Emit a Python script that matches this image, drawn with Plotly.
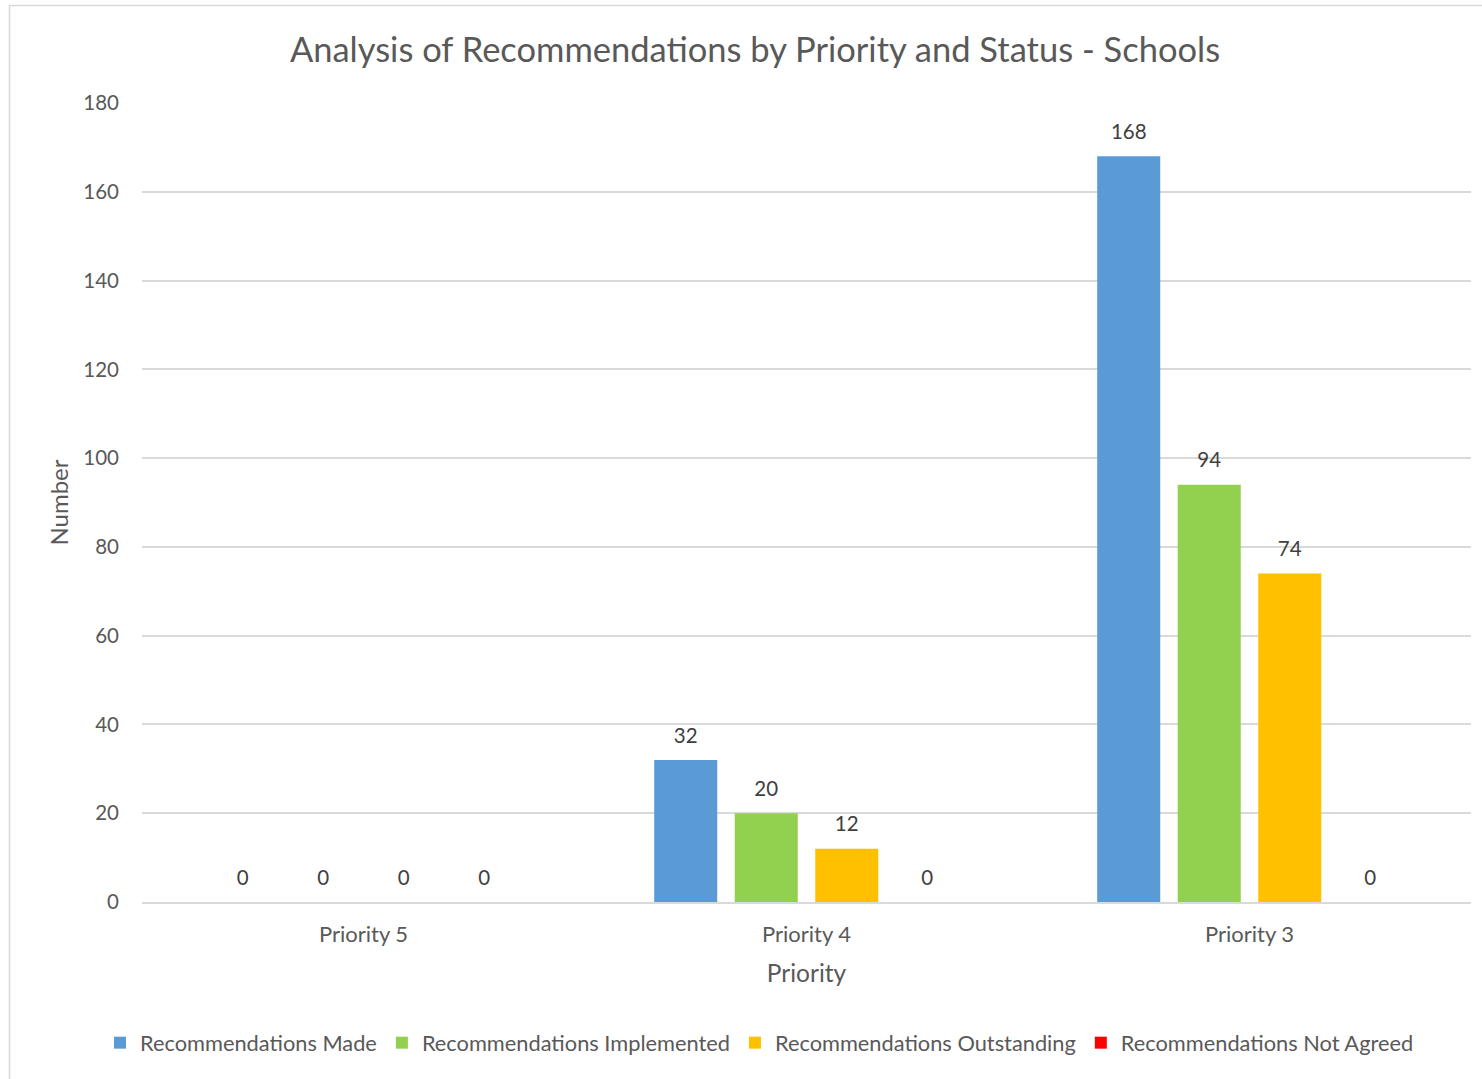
import plotly.graph_objects as go

categories = ["Priority 5", "Priority 4", "Priority 3"]
series_names = ["Recommendations Made", "Recommendations Implemented",
                "Recommendations Outstanding", "Recommendations Not Agreed"]
made = [0, 32, 168]
implemented = [0, 20, 94]
outstanding = [0, 12, 74]
not_agreed = [0, 0, 0]
y_ticks = [0, 20, 40, 60, 80, 100, 120, 140, 160, 180]

colors = ["#5B9BD5", "#92D050", "#FFC000", "#FF0000"]
values = [made, implemented, outstanding, not_agreed]
FONT = "Lato"

fig = go.Figure()
for i, (name, vals, col) in enumerate(zip(series_names, values, colors)):
    fig.add_trace(go.Bar(
        x=categories, y=vals, name=name, marker=dict(color=col, line=dict(width=0)),
        offsetgroup=str(i), alignmentgroup="a",
    ))
for i, (name, vals) in enumerate(zip(series_names, values)):
    fig.add_trace(go.Scatter(
        x=categories, y=vals, mode="markers+text", text=[str(v) for v in vals],
        textposition="top center", offsetgroup=str(i), alignmentgroup="a",
        marker=dict(size=18, opacity=0), showlegend=False, hoverinfo="skip",
        textfont=dict(family=FONT, size=20.5, color="#404040"), cliponaxis=False,
    ))

L, R, T, B = 142, 11, 103, 177
W, H = 1482, 1079
pw, ph = W - L - R, H - T - B

fig.update_layout(
    width=W, height=H, margin=dict(l=L, r=R, t=T, b=B, autoexpand=False),
    paper_bgcolor="white", plot_bgcolor="white",
    barmode="group", scattermode="group", bargap=0.273, bargroupgap=0.217,
    title=dict(text="Analysis of Recommendations by Priority and Status - Schools",
               x=755 / W, xanchor="center", y=1 - 50 / H, yanchor="middle",
               font=dict(family=FONT, size=34.5, color="#595959")),
    font=dict(family=FONT, color="#595959"),
    legend=dict(orientation="h", x=(759.5 - L) / pw, xanchor="center",
                y=(H - B - 1043) / ph, yanchor="middle",
                font=dict(family=FONT, size=21.8, color="#595959"),
                itemwidth=30, traceorder="normal"),
    showlegend=True,
    xaxis=dict(title=dict(text="Priority", font=dict(family=FONT, size=24.5, color="#595959"), standoff=18),
               tickfont=dict(family=FONT, size=22, color="#595959"), ticklabelstandoff=12,
               showline=True, linecolor="#D9D9D9", linewidth=2, ticks="", showgrid=False),
    yaxis=dict(title=dict(text="Number", font=dict(family=FONT, size=24, color="#595959"), standoff=7),
               range=[0, 180], tickvals=y_ticks, tickfont=dict(family=FONT, size=20.5, color="#595959"),
               showgrid=True, gridcolor="#D9D9D9", gridwidth=1.5, zeroline=False,
               ticklabelstandoff=22, showline=False),
    shapes=[dict(type="rect", xref="paper", yref="paper",
                 x0=(9.5 - L) / pw, x1=1.2, y0=-0.4, y1=(H - B - 5.5) / ph,
                 line=dict(color="#D9D9D9", width=1.5), fillcolor="rgba(0,0,0,0)", layer="below")],
)

fig.write_html("out.html")
